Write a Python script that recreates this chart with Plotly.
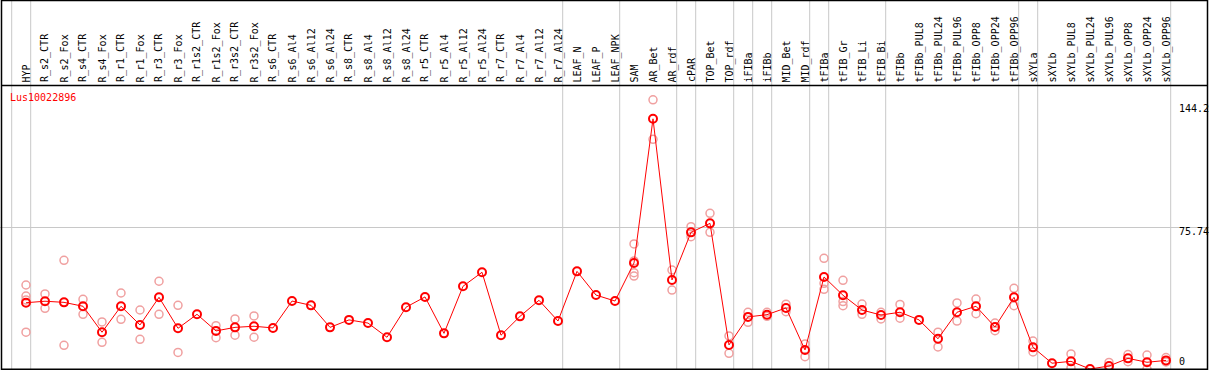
import plotly.graph_objects as go

categories = ["HYP", "R_s2_CTR", "R_s2_Fox", "R_s4_CTR", "R_s4_Fox", "R_r1_CTR", "R_r1_Fox",
              "R_r3_CTR", "R_r3_Fox", "R_r1s2_CTR", "R_r1s2_Fox", "R_r3s2_CTR", "R_r3s2_Fox",
              "R_s6_CTR", "R_s6_Al4", "R_s6_Al12", "R_s6_Al24", "R_s8_CTR", "R_s8_Al4", "R_s8_Al12",
              "R_s8_Al24", "R_r5_CTR", "R_r5_Al4", "R_r5_Al12", "R_r5_Al24", "R_r7_CTR", "R_r7_Al4",
              "R_r7_Al12", "R_r7_Al24", "LEAF_N", "LEAF_P", "LEAF_NPK", "SAM", "AR_Bet", "AR_rdf",
              "cPAR", "TOP_Bet", "TOP_rdf", "iFIBa", "iFIBb", "MID_Bet", "MID_rdf", "tFIBa",
              "tFIB_Gr", "tFIB_Li", "tFIB_Bi", "tFIBb", "tFIBb_PUL8", "tFIBb_PUL24", "tFIBb_PUL96",
              "tFIBb_OPP8", "tFIBb_OPP24", "tFIBb_OPP96", "sXYLa", "sXYLb", "sXYLb_PUL8",
              "sXYLb_PUL24", "sXYLb_PUL96", "sXYLb_OPP8", "sXYLb_OPP24", "sXYLb_OPP96"]

mean_values = [35.5, 36.3, 35.7, 33.6, 19.7, 33.6, 23.6, 38.4, 21.8, 29.3, 20.4, 22.3, 22.9,
               22.0, 36.4, 34.1, 22.3, 26.3, 24.6, 17.0, 33.1, 38.6, 19.1, 44.3, 51.8, 18.1, 28.2,
               36.8, 25.7, 52.3, 39.6, 36.4, 56.8, 134.0, 47.7, 73.2, 78.0, 12.9, 27.9, 29.1,
               32.7, 10.2, 49.3, 39.5, 31.6, 28.9, 30.4, 26.3, 16.2, 30.4, 33.6, 22.5, 38.4,
               11.6, 3.1, 4.1, 0.0, 1.6, 5.7, 3.6, 4.6]

rep_a = [45.0, 40.2, 58.2, 37.3, 25.2, 40.7, 31.6, 47.0, 34.1, None, 23.2, 26.8, 28.4,
         None, None, None, None, None, None, None, None, None, None, None, None, None, None,
         None, None, None, None, None, 67.0, 144.2, 53.0, 76.2, 83.4, 17.7, 30.4, 30.4,
         34.7, 13.4, 59.3, 47.5, 34.8, 30.4, 34.6, None, 19.7, 35.4, 37.5, 24.6, 43.2,
         15.0, None, 8.1, None, 3.5, 7.7, 7.5, 6.1]
rep_b = [39.1, 32.5, 12.7, 29.3, 14.3, 26.6, 15.9, 29.3, 8.9, None, 16.8, 18.1, 17.0,
         None, None, None, None, None, None, None, None, None, None, None, None, None, None,
         None, None, None, None, None, 57.9, 123.0, 42.3, 70.9, 73.2, 8.4, 25.0, 28.2,
         30.7, 6.6, 45.9, 36.1, 29.3, 26.8, 27.2, None, 11.8, 25.7, 29.6, 20.5, 33.9,
         9.1, None, 0.6, None, 0.0, 3.9, 0.0, 3.8]
rep_c = [37.0, None, None, None, None, None, None, None, None, None, None, None, None,
         None, None, None, None, None, None, None, None, None, None, None, None, None, None,
         None, None, None, None, None, 51.6, None, None, None, None, None, None, None,
         None, None, 42.7, 33.9, None, None, None, None, None, None, None, None, None,
         None, None, None, None, None, None, None, None]
rep_d = [19.7, None, None, None, None, None, None, None, None, None, None, None, None,
         None, None, None, None, None, None, None, None, None, None, None, None, None, None,
         None, None, None, None, None, 49.8, None, None, None, None, None, None, None,
         None, None, None, None, None, None, None, None, None, None, None, None, None,
         None, None, None, None, None, None, None, None]

group_breaks = [-1, 0, 28, 31, 34, 35, 37, 38, 39, 41, 42, 45, 52, 53, 60]
gene_id = "Lus10022896"
axis_max, axis_mid, axis_min = 144.2, 75.74, 0

W, H = 1209, 370
STEP = 19.0
X0 = 26.0
Y0 = 369.0
SCALE = 1.867

xi = list(range(len(categories)))

fig = go.Figure()

rep_x, rep_y = [], []
for reps in (rep_a, rep_b, rep_c, rep_d):
    for i, v in enumerate(reps):
        if v is not None:
            rep_x.append(i)
            rep_y.append(v)

fig.add_trace(go.Scatter(
    x=rep_x, y=rep_y, mode="markers",
    marker=dict(symbol="circle-open", size=8, color="#f0a0a0", line=dict(width=1.5, color="#f0a0a0")),
    hoverinfo="skip", showlegend=False, cliponaxis=True))

fig.add_trace(go.Scatter(
    x=xi, y=mean_values, mode="lines+markers",
    line=dict(color="#ff0000", width=1),
    marker=dict(symbol="circle-open", size=8, color="#ff0000", line=dict(width=2, color="#ff0000")),
    showlegend=False, cliponaxis=True))

shapes = []
for b in group_breaks:
    xv = b + 4.7 / STEP
    shapes.append(dict(type="line", xref="x", yref="paper", x0=xv, x1=xv, y0=0, y1=1,
                       line=dict(color="#c8c8c8", width=1), layer="below"))


def px_x(p):
    return p / W


def px_y(p):
    return (H - p) / H


shapes.append(dict(type="rect", xref="paper", yref="paper", x0=px_x(1.5), x1=px_x(1207.5),
                   y0=px_y(369.2), y1=px_y(0.5), line=dict(color="black", width=1.5), layer="above"))
shapes.append(dict(type="line", xref="paper", yref="paper", x0=px_x(1.5), x1=px_x(1207.5),
                   y0=px_y(85.5), y1=px_y(85.5), line=dict(color="black", width=1.5), layer="above"))

annotations = []
for i, c in enumerate(categories):
    annotations.append(dict(x=i, y=px_y(83.5), xref="x", yref="paper", text=c, textangle=-90,
                            showarrow=False, xanchor="center", yanchor="bottom",
                            font=dict(family="DejaVu Sans Mono", size=10, color="black"),
                            borderpad=0))
annotations.append(dict(x=px_x(8.5), y=px_y(97), xref="paper", yref="paper", text=gene_id,
                        showarrow=False, xanchor="left", yanchor="middle",
                        font=dict(family="DejaVu Sans Mono", size=10, color="#ff0000"), borderpad=0))
for val, shift in ((axis_max, -9), (axis_mid, -4.4), (axis_min, 7.5)):
    annotations.append(dict(x=px_x(1178), y=val, xref="paper", yref="y", yshift=shift,
                            text=str(val), showarrow=False, xanchor="left", yanchor="middle",
                            font=dict(family="DejaVu Sans Mono", size=10, color="black"), borderpad=0))

fig.update_layout(
    width=W, height=H, margin=dict(l=0, r=0, t=0, b=0),
    paper_bgcolor="white", plot_bgcolor="white",
    shapes=shapes, annotations=annotations,
    xaxis=dict(range=[-X0 / STEP, (W - X0) / STEP], showgrid=False, zeroline=False,
               showticklabels=False, ticks="", fixedrange=True),
    yaxis=dict(range=[(Y0 - H) / SCALE, Y0 / SCALE], tickvals=[axis_mid], showgrid=True,
               gridcolor="#c8c8c8", gridwidth=1, zeroline=False, showticklabels=False,
               ticks="", fixedrange=True),
)

fig.write_html("out.html",
               post_script="document.body.style.margin='0';document.body.style.padding='0';"
                           "document.body.style.overflow='hidden';",
               config={"displayModeBar": False})
